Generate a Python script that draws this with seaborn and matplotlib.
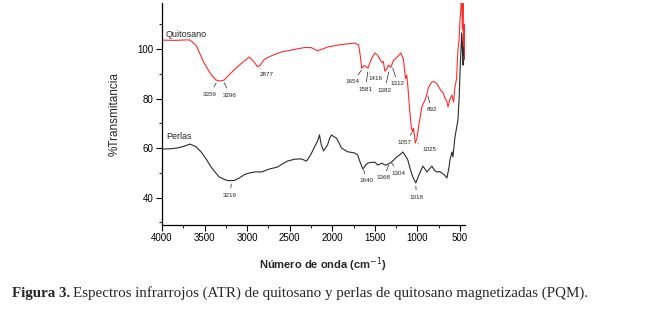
import numpy as np
import pandas as pd
import matplotlib
matplotlib.use("Agg")
import matplotlib.pyplot as plt
from matplotlib.ticker import MultipleLocator
import seaborn as sns

# ---------------- data ----------------
wn_quitosano = [4000, 3850, 3700, 3670, 3600, 3505, 3420, 3364, 3330, 3296, 3270, 3200,
                3116, 3040, 2975, 2916, 2877, 2845, 2800, 2700, 2600, 2450, 2327, 2250,
                2173, 2100, 2056, 1900, 1737, 1690, 1670, 1654, 1630, 1610, 1581, 1540,
                1500, 1470, 1443, 1416, 1400, 1382, 1360, 1340, 1312, 1280, 1230, 1195,
                1165, 1140, 1125, 1110, 1090, 1070, 1057, 1045, 1025, 1005, 980, 948,
                910, 892, 870, 830, 800, 771, 730, 700, 677, 655, 640, 620, 594, 575,
                559, 540, 524, 510, 500, 490, 480, 472, 465, 458, 452, 447, 441]
t_quitosano = [103.6, 103.5, 103.7, 103.6, 101.5, 94.3, 89.5, 87.5, 87.1, 87.2, 87.5, 90.0,
               92.7, 95.0, 96.8, 94.7, 92.8, 93.5, 95.8, 97.5, 98.8, 99.8, 100.6, 100.6,
               99.3, 100.2, 100.8, 101.8, 102.4, 101.6, 97.0, 92.2, 93.3, 93.1, 92.3, 96.0,
               98.4, 97.6, 96.0, 94.5, 95.0, 91.0, 92.0, 93.5, 92.6, 95.5, 97.0, 98.4,
               96.0, 88.0, 89.5, 84.0, 75.0, 68.0, 66.5, 68.0, 62.0, 64.0, 70.0, 76.6,
               79.5, 81.4, 84.5, 86.7, 86.8, 86.0, 83.5, 82.5, 80.2, 79.0, 76.6, 79.5,
               81.4, 78.5, 84.6, 88.0, 99.6, 104.0, 111.7, 116.0, 122.0, 108.0, 119.0,
               101.0, 110.0, 99.0, 95.6]

wn_perlas = [4000, 3900, 3823, 3750, 3670, 3600, 3540, 3480, 3423, 3370, 3328, 3260, 3219,
             3150, 3093, 3030, 2975, 2900, 2833, 2740, 2645, 2580, 2527, 2440, 2362, 2303,
             2250, 2209, 2170, 2150, 2130, 2103, 2080, 2056, 2030, 2009, 1990, 1950, 1920,
             1891, 1820, 1737, 1702, 1670, 1640, 1610, 1584, 1540, 1500, 1466, 1440, 1419,
             1390, 1368, 1330, 1304, 1242, 1200, 1172, 1140, 1113, 1080, 1050, 1018, 995,
             972, 936, 910, 889, 860, 830, 800, 771, 740, 712, 680, 653, 630, 618, 594,
             583, 559, 524, 510, 495, 488, 480, 472, 465, 458, 450, 441]
t_perlas = [59.6, 59.7, 60.0, 60.6, 61.6, 60.5, 58.4, 55.5, 52.3, 50.0, 48.3, 47.2, 46.8,
            46.9, 47.9, 49.3, 49.9, 50.4, 50.3, 51.5, 52.3, 53.7, 54.7, 55.5, 55.6, 54.7,
            57.5, 60.4, 63.0, 65.3, 61.5, 58.8, 60.0, 61.2, 64.0, 65.3, 64.8, 64.0, 62.0,
            60.0, 58.5, 58.0, 57.2, 54.0, 51.5, 53.0, 53.9, 54.2, 54.3, 53.1, 53.5, 53.9,
            53.3, 53.1, 53.8, 54.3, 56.4, 57.5, 58.4, 56.8, 55.2, 51.0, 48.0, 45.9, 48.0,
            49.9, 52.7, 51.5, 50.3, 51.5, 52.7, 51.0, 50.3, 50.5, 49.9, 49.0, 47.9, 52.0,
            55.2, 58.4, 56.4, 64.4, 71.3, 80.0, 95.0, 99.6, 106.5, 100.0, 93.5, 109.7,
            98.0, 95.6]

# peak labels: text, anchor (wavenumber, %T), label position (wavenumber, %T)
labels_quitosano = ["3359", "3296", "2877", "1654", "1581", "1416", "1382", "1312",
                    "1057", "1025", "892"]
anchor_q = [(3364, 86.3), (3269, 86.3), (2845, 92.3), (1655, 91.5), (1584, 90.7),
            (1561, 90.3), (1337, 90.7), (1290, 92.3), (1066, 66.1), (995, 62.0), (877, 81.0)]
text_q = [(3434, 81.8), (3199, 81.4), (2774, 89.9), (1761, 86.7), (1608, 83.8),
          (1490, 87.9), (1384, 83.4), (1231, 85.9), (1148, 62.4), (854, 59.6), (830, 75.4)]

labels_perlas = ["3219", "1640", "1368", "1304", "1018"]
anchor_p = [(3187, 45.5), (1631, 51.1), (1337, 53.1), (1301, 53.9), (1019, 44.6)]
text_p = [(3199, 41.0), (1596, 46.7), (1396, 47.9), (1219, 49.9), (1007, 40.2)]

x_ticks = [4000, 3500, 3000, 2500, 2000, 1500, 1000, 500]
y_ticks = [40, 60, 80, 100]

# ---------------- figure ----------------
sns.set_style("ticks")
plt.rcParams["font.family"] = ["Liberation Sans", "DejaVu Sans"]

fig = plt.figure(figsize=(6.51, 3.11), dpi=100)
fig.patch.set_facecolor("white")
ax = fig.add_axes([162 / 651, 1 - 225 / 311, (465 - 162) / 651, (225 - 3) / 311])

df_q = pd.DataFrame({"wn": wn_quitosano, "T": t_quitosano})
df_p = pd.DataFrame({"wn": wn_perlas, "T": t_perlas})
sns.lineplot(data=df_p, x="wn", y="T", ax=ax, color="#2b2b2b", lw=0.8,
             estimator=None, sort=False)
sns.lineplot(data=df_q, x="wn", y="T", ax=ax, color="#ff2a2a", lw=0.8,
             estimator=None, sort=False)

ax.set_xlim(4000, 441)
ax.set_ylim(28.9, 118.6)
ax.set_xticks(x_ticks)
ax.set_yticks(y_ticks)
ax.xaxis.set_minor_locator(MultipleLocator(250))
ax.yaxis.set_minor_locator(MultipleLocator(10))
ax.tick_params(axis="both", which="major", direction="out", length=4, width=0.8,
               labelsize=7, colors="black", pad=2)
ax.tick_params(axis="both", which="minor", direction="out", length=2.5, width=0.8)
for s in ["top", "right"]:
    ax.spines[s].set_visible(False)
for s in ["left", "bottom"]:
    ax.spines[s].set_linewidth(0.9)
    ax.spines[s].set_color("black")

ax.set_xlabel("Número de onda (cm$^{-1}$)", fontsize=8, fontweight="bold")
ax.xaxis.set_label_coords((323 - 162) / 303, -0.135)
ax.set_ylabel("%Transmitancia", fontsize=8.5, labelpad=12)

ax.text(3953, 106, "Quitosano", fontsize=6.5, ha="left", va="center")
ax.text(3953, 64.8, "Perlas", fontsize=6.5, ha="left", va="center")

for lab, a, t in zip(labels_quitosano + labels_perlas, anchor_q + anchor_p, text_q + text_p):
    ax.annotate(lab, xy=a, xytext=t, fontsize=4.5, ha="center", va="center",
                color="#222222",
                arrowprops=dict(arrowstyle="-", lw=0.5, color="#222222",
                                shrinkA=1, shrinkB=0))

# caption
renderer = fig.canvas.get_renderer()
t1 = fig.text(12 / 651, 1 - 293 / 311, "Figura 3.", fontsize=10.8, fontweight="bold",
              family=["Liberation Serif"], va="center", ha="left")
bb = t1.get_window_extent(renderer=renderer)
fig.text((bb.x1 + 3) / 651, 1 - 293 / 311,
         "Espectros infrarrojos (ATR) de quitosano y perlas de quitosano magnetizadas (PQM).",
         fontsize=10.8, family=["Liberation Serif"], va="center", ha="left")

fig.savefig("out.png", dpi=100, facecolor="white")
